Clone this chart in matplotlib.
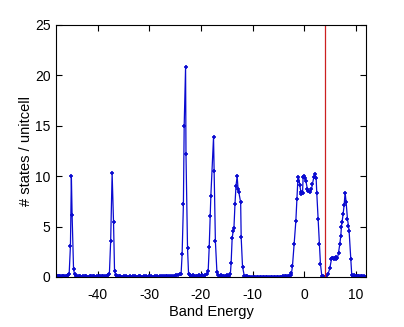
import numpy as np
import matplotlib.pyplot as plt

plt.rcParams['font.family'] = ['Liberation Sans', 'DejaVu Sans']
plt.rcParams['axes.unicode_minus'] = False

# --- density of states ---
energy = [
    # baseline before first peak
    -48.0, -47.75, -47.5, -47.25, -47.0, -46.75, -46.5, -46.25, -46.0, -45.75, -45.55,
    # peak 1
    -45.3, -45.12, -44.98, -44.7, -44.5,
    # baseline
    -44.3, -44.0, -43.7, -43.4, -43.1, -42.8, -42.5, -42.2, -41.9, -41.6, -41.3, -41.0,
    -40.7, -40.4, -40.1, -39.8, -39.5, -39.2, -38.9, -38.6, -38.3, -38.0, -37.75,
    # peak 2
    -37.5, -37.22, -36.95, -36.75, -36.5,
    # baseline
    -36.3, -35.95, -35.6, -35.25, -34.9, -34.55, -34.2, -33.85, -33.5, -33.15, -32.8,
    -32.45, -32.1, -31.75, -31.4, -31.05, -30.7, -30.35, -30.0, -29.65, -29.3, -28.95,
    -28.6, -28.25, -27.9, -27.55, -27.2, -26.85, -26.5, -26.15, -25.8, -25.45, -25.1,
    -24.75, -24.4, -24.1, -23.85,
    # peak 3
    -23.65, -23.4, -23.25, -22.98, -22.9, -22.6, -22.4,
    # baseline
    -22.2, -21.9, -21.6, -21.3, -21.0, -20.7, -20.4, -20.1, -19.8, -19.5, -19.2, -18.9,
    # peak 4
    -18.6, -18.4, -18.2, -18.08, -17.56, -17.44, -17.2, -16.9,
    # baseline
    -16.7, -16.4, -16.1, -15.8, -15.5, -15.2, -14.9, -14.6,
    # peak 5
    -14.3, -14.15, -13.95, -13.75, -13.6, -13.4, -13.2, -12.98, -12.8, -12.65, -12.3,
    -12.2, -11.94, -11.6,
    # baseline
    -11.3, -11.0, -10.7, -10.4, -10.1, -9.8, -9.5, -9.2, -8.9, -8.6, -8.3, -8.0, -7.7,
    -7.4, -7.1, -6.8, -6.5, -6.2, -5.9, -5.6, -5.3, -5.0, -4.7, -4.4, -4.1, -3.8, -3.5,
    -3.2, -2.9, -2.6,
    # peak 6 (valence band)
    -2.45, -2.25, -1.93, -1.6, -1.4, -1.22, -1.09, -0.83, -0.64, -0.58, -0.3, -0.19,
    -0.06, 0.2, 0.33, 0.65, 0.85, 1.16, 1.43, 1.62, 1.88, 2.14, 2.33, 2.46, 2.72, 2.97,
    3.17, 3.43,
    # gap
    3.65, 3.88, 4.1, 4.3,
    # peak 7 (conduction band)
    4.65, 4.98, 5.3, 5.45, 5.62, 5.8, 5.95, 6.1, 6.27, 6.47, 6.67, 6.92, 7.11, 7.24,
    7.37, 7.56, 7.76, 7.95, 8.14, 8.41, 8.6, 8.72, 9.05, 9.24,
    # baseline
    9.45, 9.7, 9.95, 10.2, 10.45, 10.7, 10.95, 11.2, 11.45, 11.7, 11.95,
]

dos = [
    0.05, 0.05, 0.06, 0.05, 0.06, 0.07, 0.06, 0.08, 0.1, 0.15, 0.3,
    3.1, 10.0, 6.2, 0.8, 0.25,
    0.1, 0.06, 0.05, 0.05, 0.04, 0.05, 0.06, 0.05, 0.04, 0.05, 0.05, 0.06,
    0.05, 0.04, 0.05, 0.05, 0.06, 0.05, 0.06, 0.08, 0.1, 0.2, 0.3,
    3.6, 10.3, 5.5, 0.6, 0.15,
    0.08, 0.05, 0.05, 0.04, 0.05, 0.05, 0.04, 0.05, 0.04, 0.05, 0.05,
    0.04, 0.05, 0.05, 0.04, 0.05, 0.05, 0.04, 0.05, 0.05, 0.04, 0.05,
    0.05, 0.04, 0.05, 0.05, 0.06, 0.05, 0.06, 0.05, 0.08, 0.1, 0.12,
    0.15, 0.2, 0.25, 0.3,
    2.25, 7.2, 15.0, 20.8, 12.2, 2.85, 0.3,
    0.15, 0.1, 0.2, 0.1, 0.08, 0.1, 0.15, 0.1, 0.2, 0.1, 0.15, 0.25,
    0.56, 2.94, 6.1, 8.04, 13.86, 10.5, 3.57, 0.46,
    0.2, 0.1, 0.15, 0.1, 0.05, 0.1, 0.15, 0.1,
    0.27, 1.36, 3.84, 4.56, 4.9, 7.24, 9.06, 10.0, 8.7, 8.4, 7.4,
    3.94, 1.02, 0.13,
    0.08, 0.05, 0.04, 0.03, 0.03, 0.04, 0.03, 0.03, 0.03, 0.04, 0.03, 0.03, 0.03,
    0.04, 0.03, 0.03, 0.03, 0.04, 0.03, 0.03, 0.04, 0.03, 0.03, 0.04, 0.05, 0.05, 0.06,
    0.08, 0.12, 0.2,
    0.35, 1.12, 3.24, 5.55, 7.74, 9.56, 9.95, 9.13, 8.47, 8.2, 8.37, 9.95,
    10.05, 9.79, 9.56, 8.7, 8.53, 8.4, 8.7, 9.23, 9.89, 10.19, 9.85, 8.3, 5.72, 3.27,
    1.29, 0.13,
    0.05, 0.0, 0.02, 0.05,
    0.3, 0.86, 1.75, 1.85, 1.92, 1.8, 1.85, 1.95, 1.75, 1.85, 2.41, 3.27, 4.07, 4.99,
    5.49, 6.22, 7.14, 8.37, 7.47, 5.72, 5.09, 4.6, 1.75, 0.2,
    0.1, 0.15, 0.05, 0.1, 0.05, 0.08, 0.05, 0.05, 0.03, 0.05, 0.02,
]

fermi_energy = 4.0
x_ticks = [-40, -30, -20, -10, 0, 10]
y_ticks = [0, 5, 10, 15, 20, 25]

fig = plt.figure(figsize=(4.04, 3.27), dpi=100)
ax = fig.add_axes([56 / 404, 50 / 327, 310 / 404, 252 / 327])

ax.plot(energy, dos, color='#0a0ad0', linewidth=0.9,
        marker='+', markersize=3.5, markeredgewidth=1.2)
ax.axvline(fermi_energy, color='#cc2020', linewidth=0.9)

ax.set_xlim(-48.1, 12.0)
ax.set_ylim(0, 25)
ax.set_xticks(x_ticks)
ax.set_yticks(y_ticks)
ax.tick_params(direction='in', top=True, right=True, length=4,
               labelsize=10, width=0.8)
ax.tick_params(axis='x', pad=8)
ax.tick_params(axis='y', pad=4)
for s in ax.spines.values():
    s.set_linewidth(0.8)

ax.set_xlabel('Band Energy', fontsize=10.5, labelpad=2)
ax.set_ylabel('# states / unitcell', fontsize=10.5, labelpad=1)

fig.savefig('out.png', dpi=100)
